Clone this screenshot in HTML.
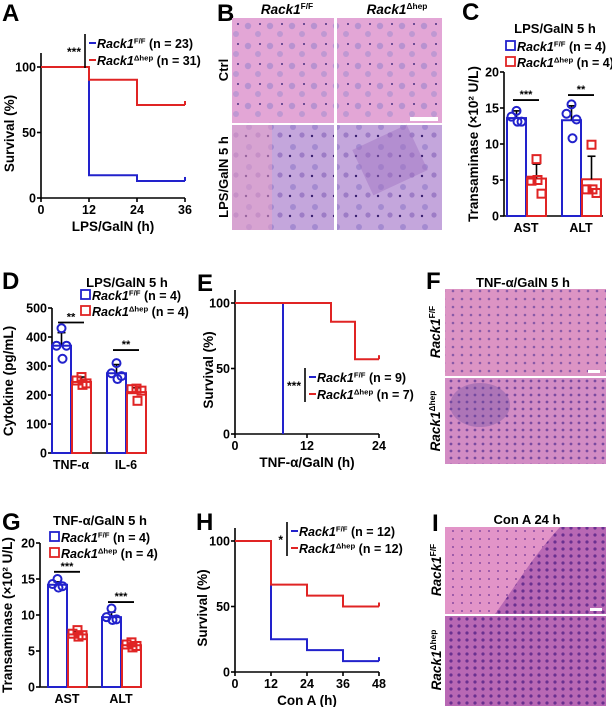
<!DOCTYPE html>
<html><head><meta charset="utf-8">
<style>
html,body{margin:0;padding:0;background:#fff;}
svg{display:block;font-family:"Liberation Sans",Arial,sans-serif;font-weight:bold;}
</style></head>
<body>
<svg id="fig" width="612" height="707" viewBox="0 0 612 707" xmlns="http://www.w3.org/2000/svg">
<defs>
<pattern id="cellsPink" width="22" height="20" patternUnits="userSpaceOnUse">
<rect width="22" height="20" fill="#e3a6d6"/>
<circle cx="6" cy="6" r="3.2" fill="#b892d0"/><circle cx="16" cy="14" r="3" fill="#bf98d2"/>
<circle cx="18" cy="4" r="1" fill="#4a3080"/>
</pattern>
<pattern id="cellsLav" width="22" height="20" patternUnits="userSpaceOnUse">
<rect width="22" height="20" fill="#c4a6dc"/>
<circle cx="7" cy="7" r="3" fill="#a48ad0"/><circle cx="16" cy="15" r="2.6" fill="#9d7cc6"/>
<circle cx="4" cy="16" r="1.2" fill="#3a2070"/>
</pattern>
<pattern id="tissueF" width="9" height="8" patternUnits="userSpaceOnUse">
<rect width="9" height="8" fill="#dc94c4"/><circle cx="3" cy="3" r="1.3" fill="#8a5aa8"/>
</pattern>
<pattern id="tissueF2" width="8" height="7" patternUnits="userSpaceOnUse">
<rect width="8" height="7" fill="#d28cc4"/><circle cx="3" cy="3" r="1.4" fill="#7a4aa0"/>
</pattern>
<pattern id="tissueI" width="8" height="7" patternUnits="userSpaceOnUse">
<rect width="8" height="7" fill="#b868b4"/><circle cx="3" cy="3" r="1.6" fill="#6a3090"/>
</pattern>
<pattern id="tissueIp" width="9" height="8" patternUnits="userSpaceOnUse">
<rect width="9" height="8" fill="#e294c8"/><circle cx="3" cy="3" r="1" fill="#8a4aa0"/>
</pattern>
</defs>
<g id="layer"></g>
</svg>
<script>
// ---------- DATA ----------
const survA_times=[0,12,24,36];
const survA_ff=[100,17.4,13,13];
const survA_hep=[100,90.3,71,71];
const survE_times_ff=[0,8];
const survE_ff=[100,0];
const survE_times_hep=[0,16,20,24];
const survE_hep=[100,85.7,57.1,57.1];
const survH_times=[0,12,24,36,48];
const survH_ff=[100,25,16.7,8.3,8.3];
const survH_hep=[100,66.7,58.3,50,50];
const survTicks=[0,50,100];

const barC_cats=["AST","ALT"];
const barC_ff=[13.6,13.3];
const barC_hep=[5.2,5.1];
const barC_ffErr=[14.6,15.3];
const barC_hepErr=[7.2,8.3];
const barC_ffPts=[[14.6,13.8,13.1,13.1],[15.5,14.2,13.4,10.8]];
const barC_hepPts=[[7.9,4.9,3.1,5.0],[9.9,3.7,3.2,3.7]];
const barC_ticks=[0,5,10,15,20];

const barD_cats=["TNF-\u03b1","IL-6"];
const barD_ff=[370,275];
const barD_hep=[245,210];
const barD_ffErr=[415,305];
const barD_hepErr=[262,225];
const barD_ffPts=[[430,370,370,325],[310,275,265,255]];
const barD_hepPts=[[262,250,240,235],[222,220,215,180]];
const barD_ticks=[0,100,200,300,400,500];

const barG_cats=["AST","ALT"];
const barG_ff=[14.2,9.7];
const barG_hep=[7.3,5.8];
const barG_ffErr=[14.6,10.4];
const barG_hepErr=[7.7,6.1];
const barG_ffPts=[[15.0,14.3,14.0,13.8],[10.9,9.7,9.4,9.3]];
const barG_hepPts=[[7.9,7.4,7.2,7.0],[6.2,5.9,5.7,5.5]];
const barG_ticks=[0,5,10,15,20];

// ---------- HELPERS ----------
const NS="http://www.w3.org/2000/svg";
const L=document.getElementById('layer');
const BLUE="#2222cc", RED="#e02424";
const TICK=12.5, AXT=13.5, LEG=12.5, TTL=13;
function mk(tag,at,parent){const e=document.createElementNS(NS,tag);for(const k in at)e.setAttribute(k,at[k]);(parent||L).appendChild(e);return e;}
function txt(x,y,s,size,anchor,parent,extra){const t=mk('text',Object.assign({x:x,y:y,'font-size':size,'text-anchor':anchor||'start',fill:'#000'},extra||{}),parent);t.textContent=s;return t;}
function gen(name,parent){const g=mk('g',{},parent);return g;}
function rackLabel(x,y,sup,rest,size,parent,anchor){
  const t=mk('text',{x:x,y:y,'font-size':size,'text-anchor':anchor||'start',fill:'#000'},parent);
  const a=mk('tspan',{'font-style':'italic'},t);a.textContent='Rack1';
  const b=mk('tspan',{'font-size':size*0.62,dy:-size*0.38},t);b.textContent=sup;
  if(rest){const c=mk('tspan',{dy:size*0.38},t);c.textContent=rest;}
  return t;
}
function panelLetter(x,y,s){const g=gen('panel-label-'+s.toLowerCase());txt(x,y,s,24,'start',g);}

function survival(o){
  const g=gen(o.name);
  const sx=t=>o.x0+(t-o.tmin)/(o.tmax-o.tmin)*(o.x1-o.x0);
  const sy=v=>o.y0-(v/100)*(o.y0-o.y100);
  const ax=gen(o.name+'-axes',g);
  mk('path',{d:`M${o.x0},${o.top}V${o.y0}H${o.x1}`,stroke:'#000','stroke-width':1.6,fill:'none'},ax);
  survTicks.forEach(v=>{mk('line',{x1:o.x0-4,x2:o.x0,y1:sy(v),y2:sy(v),stroke:'#000','stroke-width':1.6},ax);
    const t=txt(o.x0-5,sy(v)+4.5,String(v),TICK,'end',ax);});
  o.xticks.forEach(v=>{mk('line',{x1:sx(v),x2:sx(v),y1:o.y0,y2:o.y0+4,stroke:'#000','stroke-width':1.6},ax);
    const t=txt(sx(v),o.y0+16,String(v),TICK,'middle',ax);});
  const xt=txt((o.x0+o.x1)/2,o.y0+33,o.xlabel,AXT,'middle',g);
  const yt=txt(0,0,'Survival (%)',AXT,'middle',g,{transform:`translate(${o.ylx},${(o.y0+o.top)/2+8}) rotate(-90)`});
  
  o.series.forEach(s=>{
    let d=`M${sx(s.t[0])},${sy(s.v[0])}`;
    for(let i=1;i<s.t.length;i++){d+=`H${sx(s.t[i])}V${sy(s.v[i])}`;}
    const p=mk('path',{d:d,stroke:s.c,'stroke-width':2,fill:'none'},g);
    
    if(s.tick){const last=s.t.length-1;mk('line',{x1:sx(s.t[last]),x2:sx(s.t[last]),y1:sy(s.v[last])-4,y2:sy(s.v[last]),stroke:s.c,'stroke-width':2},g);}
  });
  const lg=gen(o.name+'-legend',g);
  mk('line',{x1:o.lx,x2:o.lx,y1:o.ly-9,y2:o.ly+25,stroke:'#000','stroke-width':1.6},lg);
  txt(o.lx-4,o.ly+13,o.sig,12,'end',lg);
  mk('line',{x1:o.lx+4,x2:o.lx+11,y1:o.ly,y2:o.ly,stroke:BLUE,'stroke-width':2},lg);
  mk('line',{x1:o.lx+4,x2:o.lx+11,y1:o.ly+17,y2:o.ly+17,stroke:RED,'stroke-width':2},lg);
  rackLabel(o.lx+12,o.ly+5,'F/F',' (n = '+o.n[0]+')',LEG,lg);
  rackLabel(o.lx+12,o.ly+22,'\u0394hep',' (n = '+o.n[1]+')',LEG,lg);
}

function bars(o){
  const g=gen(o.name);
  const sy=v=>o.y0-v/o.ymax*(o.y0-o.ytop);
  const ax=gen(o.name+'-axes',g);
  mk('path',{d:`M${o.x0},${o.ytop}V${o.y0}H${o.xend}`,stroke:'#000','stroke-width':1.6,fill:'none'},ax);
  o.ticks.forEach(v=>{mk('line',{x1:o.x0-4,x2:o.x0,y1:sy(v),y2:sy(v),stroke:'#000','stroke-width':1.6},ax);
    const t=txt(o.x0-5,sy(v)+4.5,String(v),TICK,'end',ax);});
  const yt=txt(0,0,o.ylabel,AXT,'middle',g,{transform:`translate(${o.ylx},${o.ylc}) rotate(-90)`});
  
  const off=[0,-5,5,1];
  o.cats.forEach((c,i)=>{
    const left=o.first+i*o.spacing;
    [[o.ff,o.ffErr,o.ffPts,BLUE,'ff'],[o.hep,o.hepErr,o.hepPts,RED,'hep']].forEach((s,j)=>{
      const bx=left+j*(o.bw+1);
      const r=mk('rect',{x:bx,y:sy(s[0][i]),width:o.bw,height:o.y0-sy(s[0][i]),fill:'none',stroke:s[3],'stroke-width':2},g);
      
      const cx=bx+o.bw/2;
      mk('line',{x1:cx,x2:cx,y1:sy(s[0][i]),y2:sy(s[1][i]),stroke:'#000','stroke-width':1.6},g);
      mk('line',{x1:cx-4,x2:cx+4,y1:sy(s[1][i]),y2:sy(s[1][i]),stroke:'#000','stroke-width':1.6},g);
      s[2][i].forEach((v,k)=>{
        const px=cx+off[k];
        let m;
        if(j===0)m=mk('circle',{cx:px,cy:sy(v),r:4,fill:'none',stroke:s[3],'stroke-width':2},g);
        else m=mk('rect',{x:px-4,y:sy(v)-4,width:8,height:8,fill:'none',stroke:s[3],'stroke-width':2},g);
        
      });
    });
    const t=txt(left+o.bw,o.y0+16,c,TICK,'middle',g);
    const sl=o.sig[i];
    mk('line',{x1:left+6,x2:left+2*o.bw-6,y1:sy(sl[0]),y2:sy(sl[0]),stroke:'#000','stroke-width':1.8},g);
    txt(left+o.bw,sy(sl[0])-2,sl[1],11,'middle',g);
  });
  const tt=txt(o.tx,o.ty,o.title,TTL,'middle',g);
  const lg=gen(o.name+'-legend',g);
  mk('rect',{x:o.lgx,y:o.lgy-5,width:9,height:9,fill:'none',stroke:BLUE,'stroke-width':1.8},lg);
  mk('rect',{x:o.lgx,y:o.lgy+11,width:9,height:9,fill:'none',stroke:RED,'stroke-width':1.8},lg);
  rackLabel(o.lgx+11,o.lgy+5,'F/F',' (n = 4)',LEG,lg);
  rackLabel(o.lgx+11,o.lgy+21,'\u0394hep',' (n = 4)',LEG,lg);
}

function histo(name,x,y,w,h,fill,parent){const r=mk('rect',{x:x,y:y,width:w,height:h,fill:fill},parent);return r;}

// ---------- PANEL A ----------
panelLetter(2,21,'A');
survival({name:'survival-chart-a',x0:41,x1:185,tmin:0,tmax:36,y0:198,y100:67,top:53,xticks:[0,12,24,36],
  xlabel:'LPS/GalN (h)',ylx:14,series:[{t:survA_times,v:survA_ff,c:BLUE,name:'line-rack1-ff',tick:true},{t:survA_times,v:survA_hep,c:RED,name:'line-rack1-hep',tick:true}],
  lx:85,ly:43,sig:'***',n:[23,31]});

// ---------- PANEL B ----------
panelLetter(217,21,'B');
(function(){const g=gen('histology-panel-b');
  histo('image-ff-ctrl',232,18,102,105,'url(#cellsPink)',g);
  histo('image-hep-ctrl',337,18,105,105,'url(#cellsPink)',g);
  histo('image-ff-lps',232,125,102,105,'url(#cellsLav)',g);
  histo('image-hep-lps',337,125,105,105,'url(#cellsLav)',g);
  mk('rect',{x:232,y:125,width:40,height:105,fill:'#e8a0c8',opacity:0.55},g);
  mk('rect',{x:360,y:135,width:60,height:50,fill:'#a070c0',opacity:0.45,transform:'rotate(-25 390 160)'},g);
  mk('rect',{x:410,y:117,width:28,height:4,fill:'#fff'},g);
  rackLabel(287,14,'F/F','',13.5,g,'middle');
  rackLabel(397,14,'\u0394hep','',13.5,g,'middle');
  txt(0,0,'Ctrl',13,'middle',g,{transform:'translate(228,70) rotate(-90)'});
  txt(0,0,'LPS/GalN 5 h',13,'middle',g,{transform:'translate(228,177) rotate(-90)'});
})();

// ---------- PANEL C ----------
panelLetter(462,20,'C');
bars({name:'bar-chart-c',x0:504,xend:603,y0:216,ytop:72,ymax:20,ticks:barC_ticks,first:507,spacing:55,bw:19,
  cats:barC_cats,ff:barC_ff,hep:barC_hep,ffErr:barC_ffErr,hepErr:barC_hepErr,ffPts:barC_ffPts,hepPts:barC_hepPts,
  ylabel:'Transaminase (\u00d710\u00b2 U/L)',ylx:478,ylc:144,sig:[[16.1,'***'],[16.8,'**']],
  title:'LPS/GalN 5 h',tx:555,ty:33,lgx:506,lgy:46});

// ---------- PANEL D ----------
panelLetter(2,289,'D');
bars({name:'bar-chart-d',x0:52,xend:146,y0:453,ytop:308,ymax:500,ticks:barD_ticks,first:52,spacing:55,bw:19,
  cats:barD_cats,ff:barD_ff,hep:barD_hep,ffErr:barD_ffErr,hepErr:barD_hepErr,ffPts:barD_ffPts,hepPts:barD_hepPts,
  ylabel:'Cytokine (pg/mL)',ylx:13,ylc:381,sig:[[450,'**'],[355,'**']],
  title:'LPS/GalN 5 h',tx:127,ty:287,lgx:81,lgy:295});

// ---------- PANEL E ----------
panelLetter(197,291,'E');
survival({name:'survival-chart-e',x0:235,x1:379,tmin:0,tmax:24,y0:434,y100:303,top:290,xticks:[0,12,24],
  xlabel:'TNF-\u03b1/GalN (h)',ylx:213,series:[{t:survE_times_ff,v:survE_ff,c:BLUE,name:'line-rack1-ff'},{t:survE_times_hep,v:survE_hep,c:RED,name:'line-rack1-hep',tick:true}],
  lx:305,ly:377,sig:'***',n:[9,7]});

// ---------- PANEL F ----------
txt(426,289,'F',24,'start',gen('panel-label-f'));
(function(){const g=gen('histology-panel-f');
  histo('image-ff',445,289,161,87,'url(#tissueF)',g);
  histo('image-hep',445,378,161,86,'url(#tissueF2)',g);
  mk('ellipse',{cx:480,cy:405,rx:30,ry:22,fill:'#6a4aa0',opacity:0.35},g);
  mk('rect',{x:588,y:370,width:12,height:3,fill:'#fff'},g);
  txt(523,287,'TNF-\u03b1/GalN 5 h',TTL,'middle',g);
  const a=rackLabel(0,0,'F/F','',13.5,g,'middle');a.setAttribute('transform','translate(440,332) rotate(-90)');
  const b=rackLabel(0,0,'\u0394hep','',13.5,g,'middle');b.setAttribute('transform','translate(440,421) rotate(-90)');
})();

// ---------- PANEL G ----------
panelLetter(2,530,'G');
bars({name:'bar-chart-g',x0:40,xend:142,y0:687,ytop:543,ymax:20,ticks:barG_ticks,first:48,spacing:54,bw:19,
  cats:barG_cats,ff:barG_ff,hep:barG_hep,ffErr:barG_ffErr,hepErr:barG_hepErr,ffPts:barG_ffPts,hepPts:barG_hepPts,
  ylabel:'Transaminase (\u00d710\u00b2 U/L)',ylx:12,ylc:615,sig:[[16,'***'],[11.8,'***']],
  title:'TNF-\u03b1/GalN 5 h',tx:100,ty:525,lgx:50,lgy:537});

// ---------- PANEL H ----------
panelLetter(196,530,'H');
survival({name:'survival-chart-h',x0:235,x1:379,tmin:0,tmax:48,y0:672,y100:541,top:528,xticks:[0,12,24,36,48],
  xlabel:'Con A (h)',ylx:207,series:[{t:survH_times,v:survH_ff,c:BLUE,name:'line-rack1-ff',tick:true},{t:survH_times,v:survH_hep,c:RED,name:'line-rack1-hep',tick:true}],
  lx:287,ly:531,sig:'*',n:[12,12]});

// ---------- PANEL I ----------
txt(432,531,'I',24,'start',gen('panel-label-i'));
(function(){const g=gen('histology-panel-i');
  histo('image-ff',445,527,161,87,'url(#tissueI)',g);
  mk('path',{d:'M445,527H560C530,560 520,580 495,614H445Z',fill:'url(#tissueIp)'},g);
  histo('image-hep',445,616,161,90,'url(#tissueI)',g);
  mk('rect',{x:590,y:608,width:12,height:3,fill:'#fff'},g);
  txt(527,524,'Con A 24 h',TTL,'middle',g);
  const a=rackLabel(0,0,'F/F','',13.5,g,'middle');a.setAttribute('transform','translate(441,570) rotate(-90)');
  const b=rackLabel(0,0,'\u0394hep','',13.5,g,'middle');b.setAttribute('transform','translate(441,660) rotate(-90)');
})();
</script>
</body></html>
